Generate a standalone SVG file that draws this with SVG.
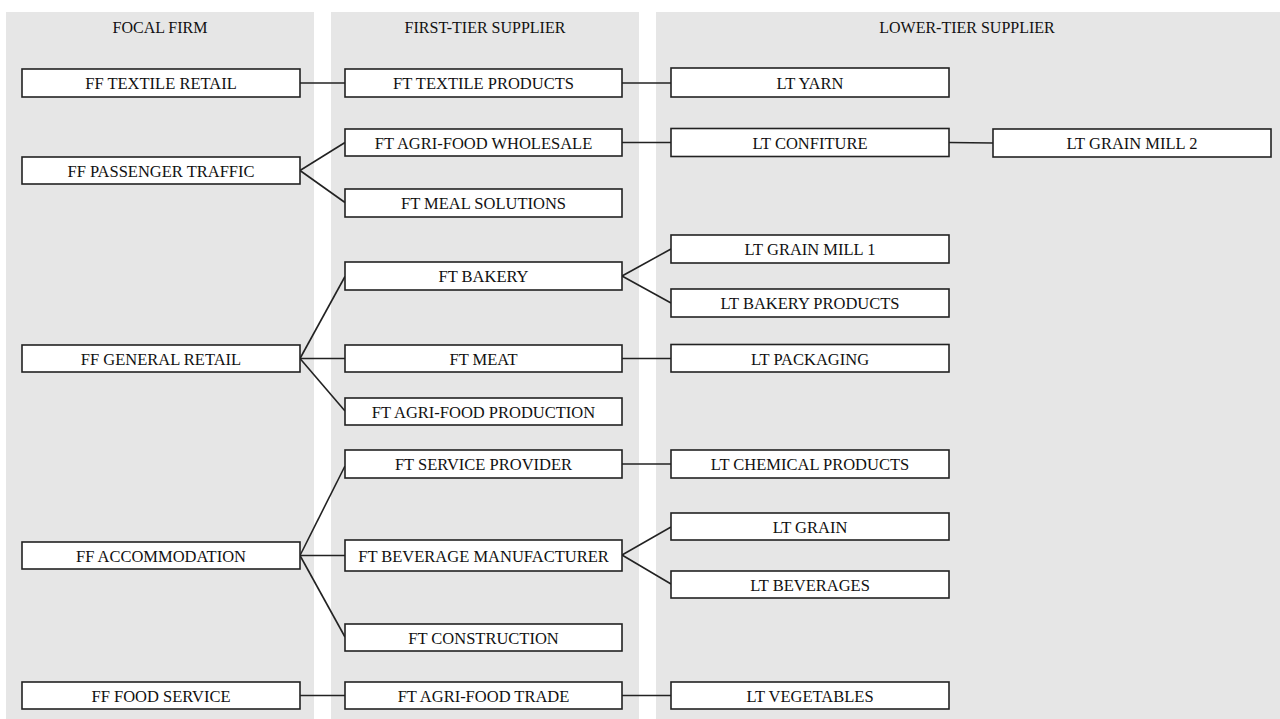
<svg xmlns="http://www.w3.org/2000/svg" width="1280" height="719" viewBox="0 0 1280 719">
<style>
.col{fill:#e6e6e6}
.hdr{font-family:"Liberation Serif","Times New Roman",serif;font-size:16px;fill:#111;text-anchor:middle}
.box rect{fill:#fff;stroke:#222;stroke-width:1.6}
.box text{font-family:"Liberation Serif","Times New Roman",serif;font-size:16.5px;fill:#111;text-anchor:middle}
.conn line{stroke:#222;stroke-width:1.6}
</style>
<rect width="1280" height="719" fill="#fff"/>
<g id="columns">
<rect class="col" x="6" y="12" width="308" height="707"/>
<rect class="col" x="331" y="12" width="308" height="707"/>
<rect class="col" x="656" y="12" width="624" height="707"/>
<text class="hdr" x="160" y="33">FOCAL FIRM</text>
<text class="hdr" x="485" y="33">FIRST-TIER SUPPLIER</text>
<text class="hdr" x="967" y="33">LOWER-TIER SUPPLIER</text>
</g>
<g id="connectors" class="conn">
<line x1="300" y1="83" x2="345" y2="83"/>
<line x1="622" y1="83" x2="671" y2="83"/>
<line x1="300" y1="170.5" x2="345" y2="142.5"/>
<line x1="300" y1="170.5" x2="345" y2="202.5"/>
<line x1="622" y1="142.5" x2="671" y2="142.5"/>
<line x1="949" y1="142.5" x2="993" y2="143"/>
<line x1="300" y1="358.5" x2="345" y2="276.5"/>
<line x1="300" y1="358.5" x2="345" y2="358.5"/>
<line x1="300" y1="358.5" x2="345" y2="411"/>
<line x1="622" y1="276" x2="671" y2="249"/>
<line x1="622" y1="276" x2="671" y2="303"/>
<line x1="622" y1="358.5" x2="671" y2="358.5"/>
<line x1="300" y1="555.5" x2="345" y2="466"/>
<line x1="300" y1="555.5" x2="345" y2="555.5"/>
<line x1="300" y1="555.5" x2="345" y2="637"/>
<line x1="622" y1="464" x2="671" y2="464"/>
<line x1="622" y1="555" x2="671" y2="527"/>
<line x1="622" y1="555" x2="671" y2="584"/>
<line x1="300" y1="695.5" x2="345" y2="695.5"/>
<line x1="622" y1="695.5" x2="671" y2="695.5"/>
</g>
<g id="ff-textile-retail" class="box"><rect x="22" y="69" width="278" height="28"/><text x="161" y="89">FF TEXTILE RETAIL</text></g>
<g id="ff-passenger-traffic" class="box"><rect x="22" y="157" width="278" height="27"/><text x="161" y="176.5">FF PASSENGER TRAFFIC</text></g>
<g id="ff-general-retail" class="box"><rect x="22" y="345" width="278" height="27"/><text x="161" y="364.5">FF GENERAL RETAIL</text></g>
<g id="ff-accommodation" class="box"><rect x="22" y="542" width="278" height="27"/><text x="161" y="561.5">FF ACCOMMODATION</text></g>
<g id="ff-food-service" class="box"><rect x="22" y="682" width="278" height="27"/><text x="161" y="701.5">FF FOOD SERVICE</text></g>
<g id="ft-textile-products" class="box"><rect x="345" y="69" width="277" height="28"/><text x="483.5" y="89">FT TEXTILE PRODUCTS</text></g>
<g id="ft-agri-food-wholesale" class="box"><rect x="345" y="129" width="277" height="27"/><text x="483.5" y="148.5">FT AGRI-FOOD WHOLESALE</text></g>
<g id="ft-meal-solutions" class="box"><rect x="345" y="189" width="277" height="28"/><text x="483.5" y="209">FT MEAL SOLUTIONS</text></g>
<g id="ft-bakery" class="box"><rect x="345" y="262" width="277" height="28"/><text x="483.5" y="282">FT BAKERY</text></g>
<g id="ft-meat" class="box"><rect x="345" y="345" width="277" height="27"/><text x="483.5" y="364.5">FT MEAT</text></g>
<g id="ft-agri-food-production" class="box"><rect x="345" y="398" width="277" height="27"/><text x="483.5" y="417.5">FT AGRI-FOOD PRODUCTION</text></g>
<g id="ft-service-provider" class="box"><rect x="345" y="450" width="277" height="28"/><text x="483.5" y="470">FT SERVICE PROVIDER</text></g>
<g id="ft-beverage-manufacturer" class="box"><rect x="345" y="540" width="277" height="31"/><text x="483.5" y="561.5">FT BEVERAGE MANUFACTURER</text></g>
<g id="ft-construction" class="box"><rect x="345" y="624" width="277" height="27"/><text x="483.5" y="643.5">FT CONSTRUCTION</text></g>
<g id="ft-agri-food-trade" class="box"><rect x="345" y="682" width="277" height="27"/><text x="483.5" y="701.5">FT AGRI-FOOD TRADE</text></g>
<g id="lt-yarn" class="box"><rect x="671" y="68" width="278" height="29"/><text x="810" y="89">LT YARN</text></g>
<g id="lt-confiture" class="box"><rect x="671" y="128.5" width="278" height="28"/><text x="810" y="148.5">LT CONFITURE</text></g>
<g id="lt-grain-mill-2" class="box"><rect x="993" y="129" width="278" height="28"/><text x="1132" y="149">LT GRAIN MILL 2</text></g>
<g id="lt-grain-mill-1" class="box"><rect x="671" y="235" width="278" height="28"/><text x="810" y="255">LT GRAIN MILL 1</text></g>
<g id="lt-bakery-products" class="box"><rect x="671" y="289" width="278" height="28"/><text x="810" y="309">LT BAKERY PRODUCTS</text></g>
<g id="lt-packaging" class="box"><rect x="671" y="344.5" width="278" height="27.5"/><text x="810" y="364.5">LT PACKAGING</text></g>
<g id="lt-chemical-products" class="box"><rect x="671" y="450" width="278" height="28"/><text x="810" y="470">LT CHEMICAL PRODUCTS</text></g>
<g id="lt-grain" class="box"><rect x="671" y="513" width="278" height="27"/><text x="810" y="532.5">LT GRAIN</text></g>
<g id="lt-beverages" class="box"><rect x="671" y="571" width="278" height="27"/><text x="810" y="590.5">LT BEVERAGES</text></g>
<g id="lt-vegetables" class="box"><rect x="671" y="682" width="278" height="27"/><text x="810" y="701.5">LT VEGETABLES</text></g>
</svg>
